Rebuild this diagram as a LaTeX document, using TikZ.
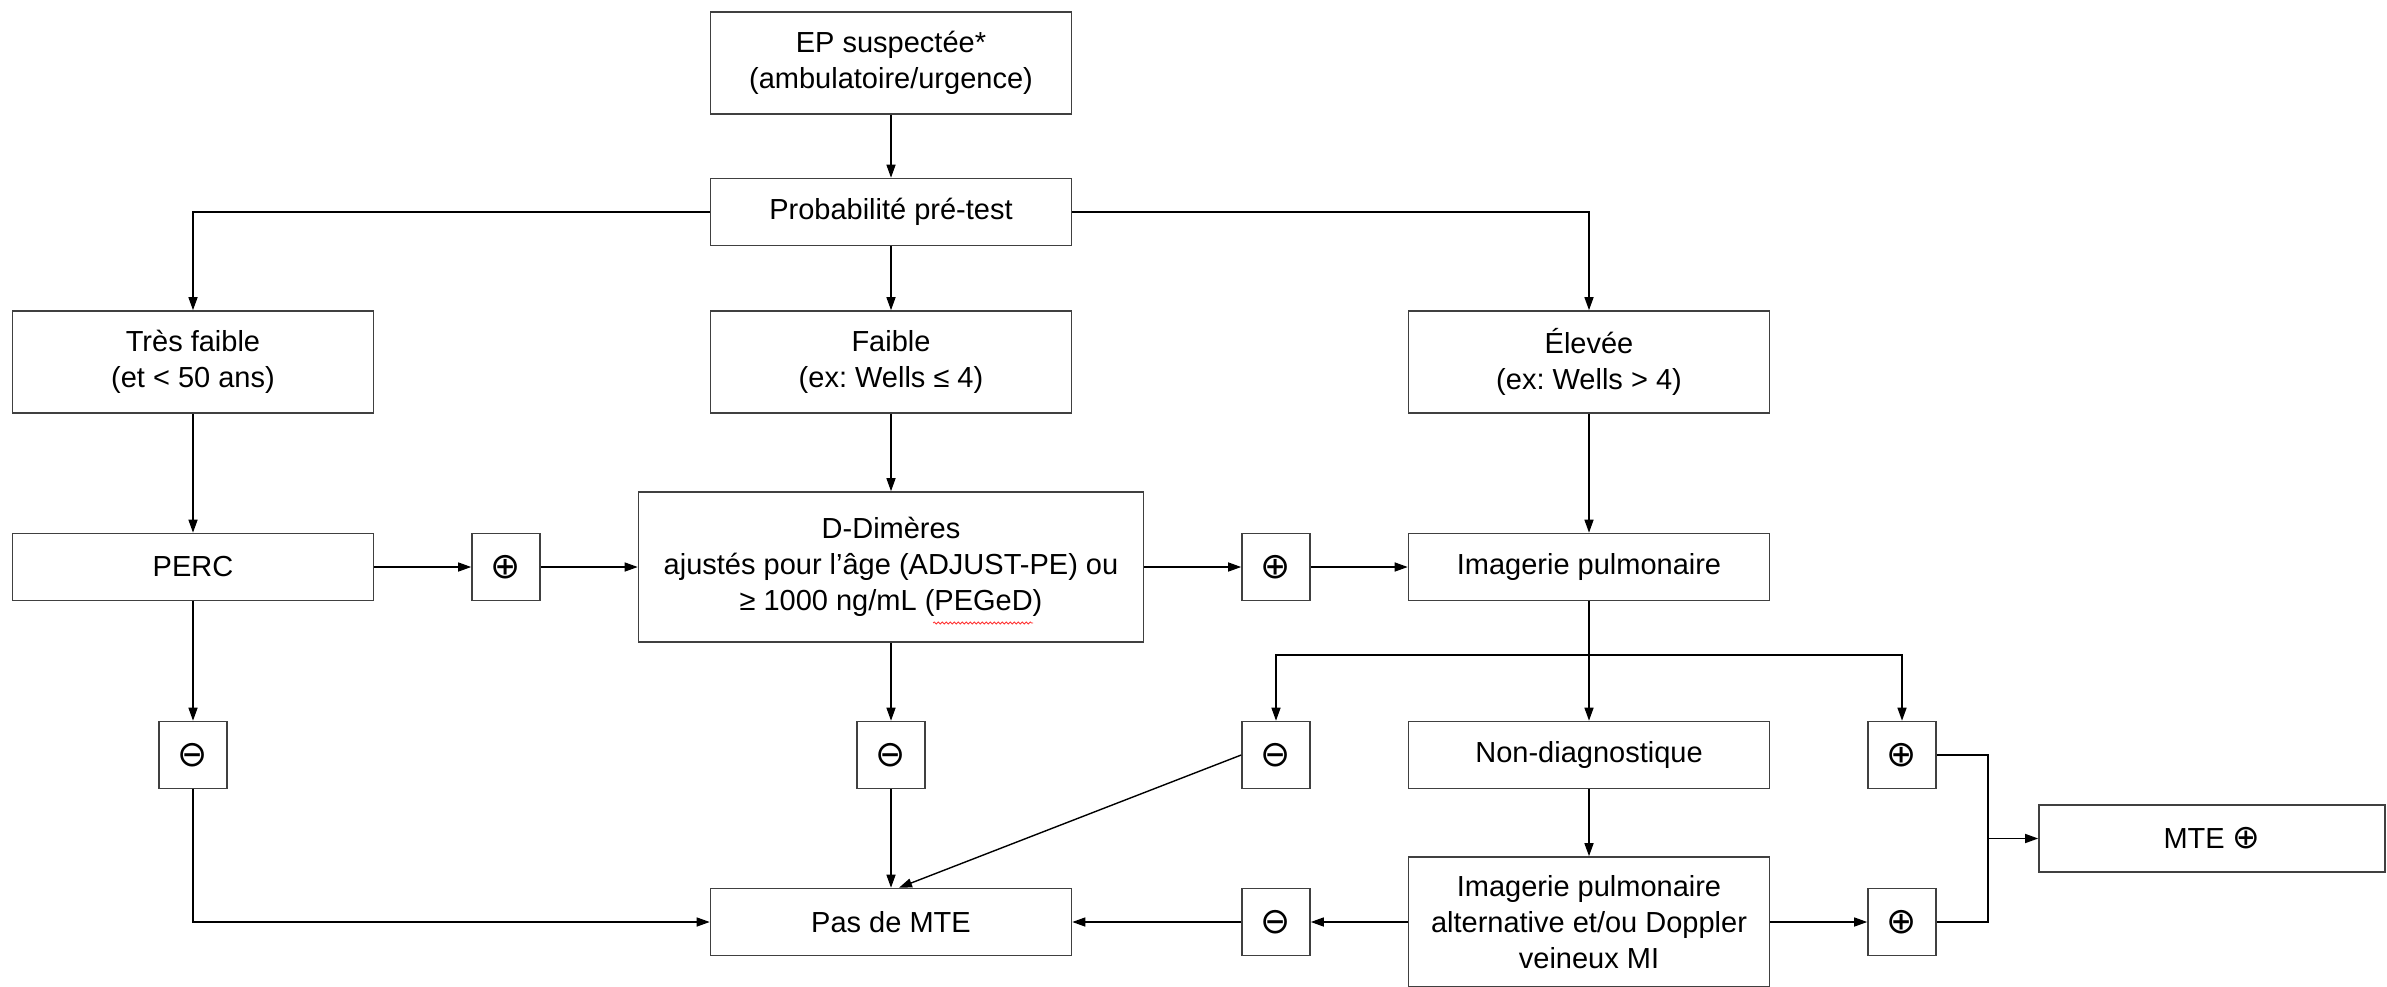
\documentclass[tikz,border=0pt]{standalone}
\usepackage{fontspec}
\setmainfont{Liberation Sans}
\newfontfamily\symfont{DejaVu Sans}
\frenchspacing
\usetikzlibrary{
    arrows.meta,
    positioning,
    decorations.pathmorphing
}
\tikzset{
    >={Triangle[length=13pt,width=9pt]},
    every node/.style={font=\fontsize{29pt}{36pt}\selectfont},
    block/.style={draw=black!75, line width=1.6pt, minimum width=361pt,
        minimum height=67pt, align=center, inner sep=0pt},
    tall/.style={block, minimum height=102pt},
    signe/.style={draw=black!75, line width=1.6pt, minimum width=68pt,
        minimum height=67pt, inner sep=0pt,
        font=\fontsize{36pt}{36pt}\symfont},
}

\begin{document}
\begin{tikzpicture}[x=1pt,y=-1pt,on grid,line width=1.4pt]
   \useasboundingbox (0,0) rectangle (2387,987);
   \node[tall] (ep) at (891,63) {EP suspectée*\\(ambulatoire/urgence)};
   \node[block] (prob) [below=149pt of ep] {Probabilité pré-test};
   \node[tall] (faible) [below=150pt of prob] {Faible\\(ex: Wells ≤ 4)};
   \node[tall] (tres) [left=698pt of faible] {Très faible\\(et < 50 ans)};
   \node[tall] (elevee) [right=698pt of faible] {Élevée\\(ex: Wells > 4)};
   \node[block] (perc) [below=205pt of tres] {PERC};
   \node[block,minimum width=505pt,minimum height=150pt] (ddim) [below=205pt of faible]
      {D-Dimères\\ajustés pour l’âge (ADJUST-PE) ou\\≥ 1000 ng/mL (PEGeD)};
   \node[block] (img) [below=205pt of elevee] {Imagerie pulmonaire};
   \node[signe] (plus1) [right=313pt of perc] {⊕};
   \node[signe] (plus2) [right=385pt of ddim] {⊕};
   \node[signe] (minus1) [below=188pt of perc] {⊖};
   \node[signe] (minus2) [below=188pt of ddim] {⊖};
   \node[block] (nondiag) [below=188pt of img] {Non-diagnostique};
   \node[signe] (minus3) [left=313pt of nondiag] {⊖};
   \node[signe] (plus3) [right=313pt of nondiag] {⊕};
   \node[block,minimum height=130pt] (alt) [below=167pt of nondiag]
      {Imagerie pulmonaire\\alternative et/ou Doppler\\veineux MI};
   \node[signe] (minus4) [left=313pt of alt] {⊖};
   \node[signe] (plus4) [right=313pt of alt] {⊕};
   \node[block] (pasmte) [below=167pt of minus2] {Pas de MTE};
   \path (plus3) -- (plus4) coordinate[midway] (mid);
   \coordinate[right=86pt of mid] (jn);
   \coordinate[below=88pt of img] (split);
   \node[block,minimum width=346pt] (mte) at (jn) [xshift=224pt]
      {MTE {\fontsize{33pt}{36pt}\symfont ⊕}};
   \draw[->] (ep) -- (prob);
   \draw[->] (prob.west) -| (tres);
   \draw[->] (prob.east) -| (elevee);
   \draw[->] (prob) -- (faible);
   \draw[->] (tres) -- (perc);
   \draw[->] (faible) -- (ddim);
   \draw[->] (elevee) -- (img);
   \draw[->] (perc) -- (plus1);
   \draw[->] (plus1) -- (ddim);
   \draw[->] (ddim) -- (plus2);
   \draw[->] (plus2) -- (img);
   \draw[->] (perc) -- (minus1);
   \draw[->] (ddim) -- (minus2);
   \draw[->] (img) -- (nondiag);
   \draw[->] (split) -| (minus3);
   \draw[->] (split) -| (plus3);
   \draw[->] (nondiag) -- (alt);
   \draw[->] (alt) -- (minus4);
   \draw[->] (alt) -- (plus4);
   \draw[->] (minus1) |- (pasmte);
   \draw[->] (minus2) -- (pasmte);
   \draw[->] (minus3.west) -- ([xshift=8pt]pasmte.north);
   \draw[->] (minus4) -- (pasmte);
   \draw (plus3.east) -| (jn) |- (plus4.east);
   \draw[->] (jn) -- (mte);
   \draw[red!80, line width=0.8pt, decorate,
      decoration={snake, amplitude=1pt, segment length=4pt}]
      ([shift={(42pt,-56pt)}]ddim.center) -- ([shift={(142pt,-56pt)}]ddim.center);
\end{tikzpicture}
\end{document}
